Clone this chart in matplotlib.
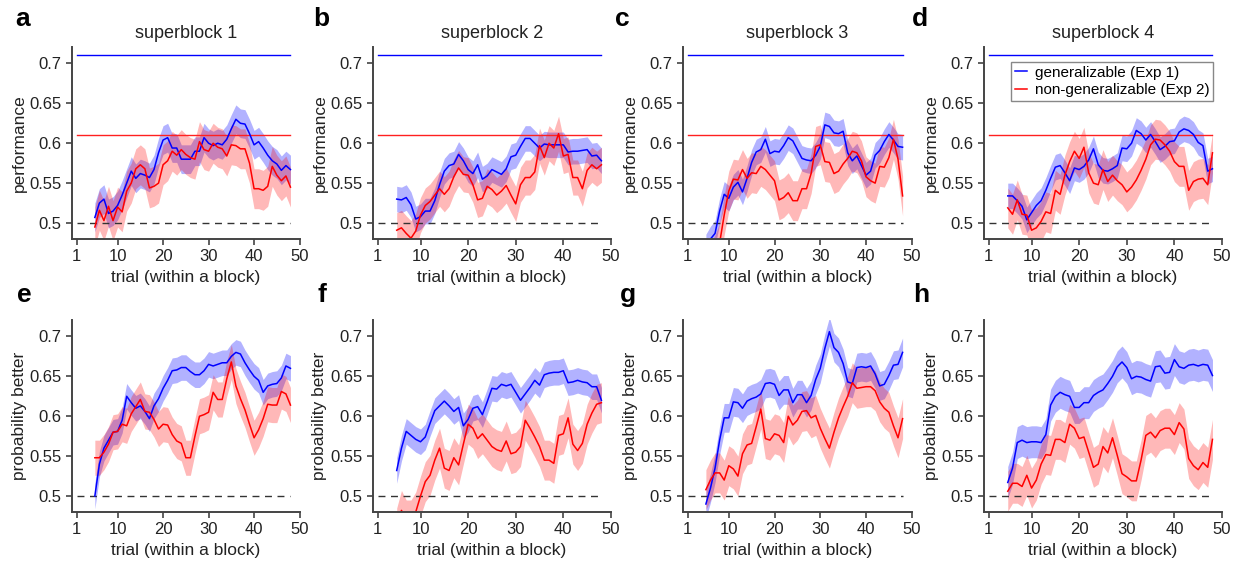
import matplotlib
matplotlib.use("Agg")
import matplotlib.pyplot as plt
import numpy as np

plt.rcParams['font.family'] = ['Liberation Sans', 'DejaVu Sans']

# =======================
# Datos
# =======================
trials = list(range(5, 49))

titles = ["superblock 1", "superblock 2", "superblock 3", "superblock 4"]
letters = ["a", "b", "c", "d", "e", "f", "g", "h"]
ylabels = ["performance", "probability better"]
xticks = [1, 10, 20, 30, 40, 50]
yticks = [0.5, 0.55, 0.6, 0.65, 0.7]
ytick_labels = ["0.5", "0.55", "0.6", "0.65", "0.7"]
ref_gen = 0.71
ref_nongen = 0.61
chance = 0.5
legend_labels = ["generalizable (Exp 1)", "non-generalizable (Exp 2)"]

# --- performance (fila superior) ---
blue_a = [0.507, 0.525, 0.530, 0.512, 0.515, 0.522, 0.535, 0.550, 0.565, 0.556, 0.562,
          0.560, 0.557, 0.567, 0.588, 0.604, 0.607, 0.594, 0.594, 0.580, 0.580, 0.580,
          0.590, 0.590, 0.607, 0.600, 0.597, 0.600, 0.598, 0.605, 0.618, 0.630, 0.625,
          0.624, 0.612, 0.598, 0.602, 0.594, 0.585, 0.578, 0.574, 0.566, 0.572, 0.567]
red_a = [0.495, 0.516, 0.503, 0.521, 0.503, 0.520, 0.514, 0.540, 0.550, 0.568, 0.573,
         0.568, 0.544, 0.546, 0.550, 0.573, 0.578, 0.590, 0.585, 0.592, 0.586, 0.582,
         0.580, 0.602, 0.592, 0.590, 0.600, 0.595, 0.593, 0.584, 0.598, 0.597, 0.593,
         0.593, 0.575, 0.543, 0.543, 0.541, 0.546, 0.571, 0.560, 0.553, 0.559, 0.545]
blue_b = [0.530, 0.529, 0.532, 0.523, 0.505, 0.508, 0.515, 0.515, 0.528, 0.548, 0.565,
          0.572, 0.574, 0.586, 0.578, 0.567, 0.562, 0.573, 0.555, 0.559, 0.567, 0.564,
          0.561, 0.568, 0.583, 0.585, 0.596, 0.606, 0.606, 0.600, 0.594, 0.599, 0.598,
          0.598, 0.598, 0.598, 0.589, 0.590, 0.590, 0.591, 0.592, 0.584, 0.585, 0.578]
red_b = [0.491, 0.494, 0.487, 0.481, 0.490, 0.510, 0.522, 0.527, 0.535, 0.543, 0.536,
         0.543, 0.558, 0.569, 0.561, 0.560, 0.548, 0.529, 0.531, 0.546, 0.542, 0.535,
         0.540, 0.547, 0.535, 0.524, 0.548, 0.557, 0.557, 0.564, 0.597, 0.582, 0.600,
         0.594, 0.612, 0.584, 0.586, 0.557, 0.557, 0.543, 0.566, 0.573, 0.568, 0.573]
blue_c = [0.470, 0.480, 0.487, 0.515, 0.536, 0.531, 0.545, 0.551, 0.539, 0.556, 0.576,
          0.589, 0.592, 0.605, 0.587, 0.590, 0.589, 0.597, 0.607, 0.603, 0.592, 0.581,
          0.579, 0.578, 0.585, 0.596, 0.623, 0.621, 0.613, 0.612, 0.615, 0.588, 0.578,
          0.584, 0.572, 0.560, 0.565, 0.585, 0.591, 0.602, 0.611, 0.604, 0.596, 0.595]
red_c = [0.440, 0.450, 0.460, 0.475, 0.510, 0.540, 0.555, 0.554, 0.567, 0.556, 0.563,
         0.562, 0.571, 0.567, 0.560, 0.553, 0.529, 0.532, 0.538, 0.528, 0.528, 0.543,
         0.543, 0.562, 0.596, 0.598, 0.577, 0.576, 0.562, 0.565, 0.574, 0.581, 0.590,
         0.588, 0.578, 0.558, 0.553, 0.550, 0.571, 0.570, 0.582, 0.605, 0.580, 0.534]
blue_d = [0.534, 0.534, 0.528, 0.521, 0.504, 0.513, 0.522, 0.528, 0.541, 0.556, 0.570,
          0.572, 0.563, 0.553, 0.569, 0.567, 0.571, 0.579, 0.593, 0.573, 0.566, 0.565,
          0.568, 0.572, 0.594, 0.593, 0.600, 0.616, 0.612, 0.604, 0.611, 0.602, 0.592,
          0.596, 0.602, 0.603, 0.614, 0.618, 0.616, 0.611, 0.601, 0.597, 0.565, 0.568]
red_d = [0.519, 0.511, 0.529, 0.511, 0.510, 0.491, 0.494, 0.502, 0.514, 0.512, 0.541,
         0.536, 0.560, 0.577, 0.590, 0.581, 0.595, 0.563, 0.550, 0.548, 0.567, 0.552,
         0.560, 0.553, 0.548, 0.539, 0.545, 0.554, 0.566, 0.580, 0.598, 0.605, 0.604,
         0.598, 0.590, 0.577, 0.571, 0.571, 0.541, 0.552, 0.555, 0.556, 0.548, 0.588]

# --- probability better (fila inferior) ---
blue_e = [0.500, 0.540, 0.560, 0.570, 0.580, 0.581, 0.595, 0.625, 0.617, 0.610, 0.613,
          0.606, 0.597, 0.613, 0.622, 0.635, 0.645, 0.657, 0.658, 0.661, 0.661, 0.656,
          0.652, 0.652, 0.657, 0.665, 0.663, 0.665, 0.667, 0.667, 0.675, 0.680, 0.678,
          0.667, 0.658, 0.650, 0.645, 0.630, 0.638, 0.640, 0.641, 0.648, 0.663, 0.660]
red_e = [0.548, 0.548, 0.555, 0.565, 0.580, 0.581, 0.590, 0.588, 0.603, 0.612, 0.621,
         0.606, 0.605, 0.596, 0.584, 0.590, 0.589, 0.577, 0.569, 0.566, 0.548, 0.548,
         0.575, 0.600, 0.602, 0.605, 0.630, 0.621, 0.621, 0.647, 0.668, 0.638, 0.622,
         0.608, 0.590, 0.573, 0.583, 0.597, 0.615, 0.614, 0.614, 0.631, 0.628, 0.614]
blue_f = [0.532, 0.560, 0.581, 0.576, 0.571, 0.568, 0.574, 0.591, 0.607, 0.613, 0.619,
          0.613, 0.606, 0.611, 0.588, 0.596, 0.610, 0.612, 0.602, 0.618, 0.635, 0.634,
          0.640, 0.638, 0.640, 0.630, 0.620, 0.628, 0.636, 0.645, 0.639, 0.652, 0.654,
          0.655, 0.655, 0.657, 0.642, 0.643, 0.645, 0.643, 0.642, 0.637, 0.637, 0.620]
red_f = [0.460, 0.482, 0.470, 0.470, 0.480, 0.500, 0.518, 0.526, 0.545, 0.560, 0.535,
         0.532, 0.548, 0.539, 0.565, 0.590, 0.585, 0.572, 0.578, 0.570, 0.562, 0.558,
         0.556, 0.569, 0.553, 0.555, 0.562, 0.595, 0.585, 0.574, 0.562, 0.545, 0.545,
         0.541, 0.576, 0.578, 0.598, 0.565, 0.557, 0.566, 0.590, 0.604, 0.615, 0.617]
blue_g = [0.490, 0.510, 0.535, 0.570, 0.598, 0.598, 0.618, 0.617, 0.610, 0.619, 0.622,
          0.624, 0.628, 0.641, 0.642, 0.640, 0.626, 0.633, 0.633, 0.617, 0.627, 0.627,
          0.617, 0.626, 0.646, 0.660, 0.685, 0.706, 0.686, 0.680, 0.666, 0.643, 0.641,
          0.661, 0.662, 0.661, 0.663, 0.653, 0.638, 0.640, 0.651, 0.664, 0.665, 0.680]
red_g = [0.508, 0.520, 0.529, 0.529, 0.520, 0.538, 0.534, 0.525, 0.553, 0.564, 0.566,
         0.587, 0.609, 0.572, 0.570, 0.578, 0.576, 0.567, 0.600, 0.589, 0.595, 0.606,
         0.607, 0.598, 0.601, 0.585, 0.572, 0.560, 0.580, 0.598, 0.612, 0.625, 0.642,
         0.635, 0.636, 0.637, 0.637, 0.632, 0.618, 0.610, 0.605, 0.588, 0.573, 0.597]
blue_h = [0.517, 0.535, 0.567, 0.570, 0.567, 0.568, 0.568, 0.567, 0.577, 0.614, 0.625,
          0.630, 0.627, 0.625, 0.611, 0.611, 0.617, 0.617, 0.626, 0.630, 0.633, 0.641,
          0.650, 0.662, 0.668, 0.661, 0.647, 0.650, 0.649, 0.646, 0.644, 0.662, 0.663,
          0.654, 0.655, 0.671, 0.662, 0.660, 0.664, 0.665, 0.663, 0.665, 0.664, 0.651]
red_h = [0.506, 0.516, 0.516, 0.512, 0.526, 0.510, 0.520, 0.540, 0.552, 0.551, 0.571,
         0.571, 0.567, 0.590, 0.585, 0.572, 0.574, 0.555, 0.536, 0.540, 0.562, 0.554,
         0.573, 0.551, 0.528, 0.524, 0.519, 0.519, 0.545, 0.576, 0.580, 0.573, 0.582,
         0.585, 0.585, 0.577, 0.592, 0.584, 0.547, 0.538, 0.533, 0.542, 0.536, 0.571]

# semiancho de las bandas (error estándar aprox., por serie)
sem_blue = [0.018, 0.016, 0.016, 0.016, 0.016, 0.016, 0.018, 0.020]
sem_red = [0.025, 0.022, 0.025, 0.025, 0.022, 0.025, 0.025, 0.025]

blue_series = [blue_a, blue_b, blue_c, blue_d, blue_e, blue_f, blue_g, blue_h]
red_series = [red_a, red_b, red_c, red_d, red_e, red_f, red_g, red_h]

# =======================
# Figura
# =======================
fig = plt.figure(figsize=(12.43, 5.65), dpi=100)

lefts = [0.058, 0.300, 0.5495, 0.7916]
widths = [0.183, 0.1915, 0.184, 0.1915]
bottoms = [0.577, 0.0938]
height = 0.339
letter_x = [15, 313, 615, 912, 17, 318, 620, 913]   # px
letter_y = [26, 302]                                 # px desde arriba

txt = "#222222"
spine_c = "#444444"

for k in range(8):
    row = k // 4
    col = k % 4
    ax = fig.add_axes([lefts[col], bottoms[row], widths[col], height])
    x = np.array(trials)
    yb = np.array(blue_series[k])
    yr = np.array(red_series[k])

    if row == 0:
        ax.plot([1, 48], [ref_gen, ref_gen], color="blue", lw=1)
        ax.plot([1, 48], [ref_nongen, ref_nongen], color="#ff2020", lw=1)
    ax.plot([1, 48], [chance, chance], color="#333333", lw=1, ls=(0, (5, 4)))

    ax.fill_between(x, yb - sem_blue[k], yb + sem_blue[k], color="blue",
                    alpha=0.3, lw=0)
    lb, = ax.plot(x, yb, color="blue", lw=1.1)
    ax.fill_between(x, yr - sem_red[k], yr + sem_red[k], color="red",
                    alpha=0.28, lw=0)
    lr, = ax.plot(x, yr, color="red", lw=1.1)

    ax.set_xlim(0, 50)
    ax.set_ylim(0.48, 0.72)
    ax.set_xticks(xticks)
    ax.set_yticks(yticks)
    ax.set_yticklabels(ytick_labels)
    ax.tick_params(direction="out", length=4, width=1.2, colors=spine_c,
                   labelcolor=txt, labelsize=12)
    for s in ["top", "right"]:
        ax.spines[s].set_visible(False)
    for s in ["left", "bottom"]:
        ax.spines[s].set_color(spine_c)
        ax.spines[s].set_linewidth(1.4)

    ax.set_xlabel("trial (within a block)", fontsize=12.5, color=txt, labelpad=4)
    ax.set_ylabel(ylabels[row], fontsize=12.5, color=txt, labelpad=2)
    if row == 0:
        ax.set_title(titles[col], fontsize=13, color=txt, pad=7)

    fig.text(letter_x[k] / 1243, 1 - letter_y[row] / 565, letters[k],
             fontsize=19, fontweight="bold", color="black", va="baseline")

    if k == 3:
        leg = ax.legend([lb, lr], legend_labels, loc="upper right",
                        bbox_to_anchor=(0.963, 0.925), borderaxespad=0,
                        fontsize=11, fancybox=False, framealpha=1,
                        edgecolor="#888888", handlelength=0.8,
                        handletextpad=0.5, borderpad=0.25, labelspacing=0.25)
        leg.get_frame().set_linewidth(1.0)

fig.savefig("out.png", dpi=100)
